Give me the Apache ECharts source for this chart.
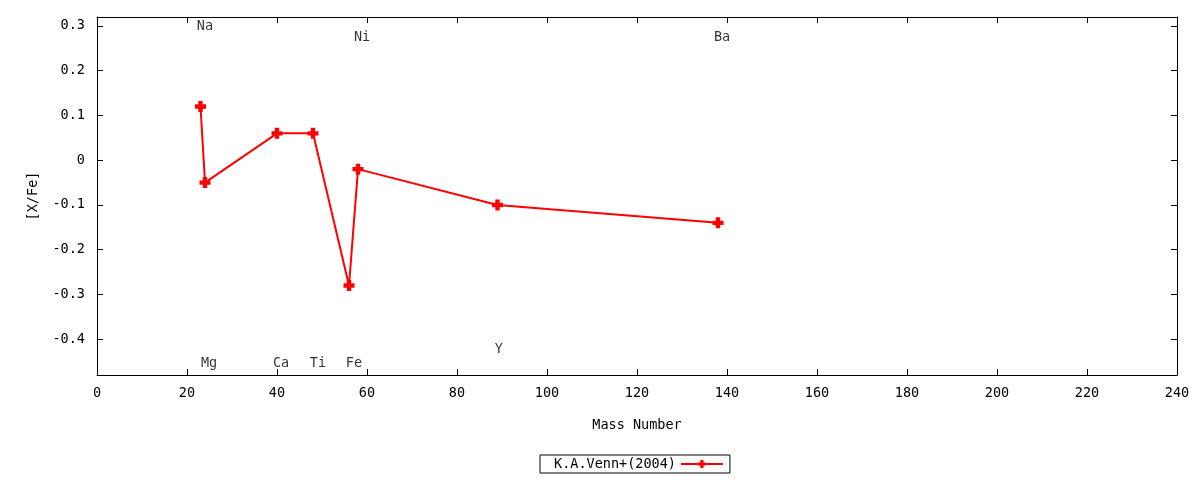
<!DOCTYPE html>
<html lang="en">
<head>
    <meta charset="UTF-8" />
    <title>[X/Fe] vs Mass Number</title>
    <script src="https://cdn.jsdelivr.net/npm/echarts@6/dist/echarts.min.js"></script>
</head>
<style>
    body { margin: 0; background: #fff; }
    #main { width: 1200px; height: 480px; }
</style>
<body>
    <div id="main"></div>
</body>
<script type="text/javascript">

    // abundances, K.A.Venn+(2004)
    var massNumber = [23, 24, 40, 48, 56, 58, 89, 138];
    var xFe = [0.12, -0.05, 0.06, 0.06, -0.28, -0.02, -0.10, -0.14];

    // element labels
    var elemNames = ['Na', 'Mg', 'Ca', 'Ti', 'Fe', 'Ni', 'Y', 'Ba'];
    var elemX = [24, 24.9, 40.9, 49.1, 57.1, 58.9, 89.3, 138.9];
    var elemY = [0.298, -0.454, -0.454, -0.454, -0.454, 0.275, -0.423, 0.275];

    var yTicks = [-0.4, -0.3, -0.2, -0.1, 0, 0.1, 0.2, 0.3];

    var font = 'DejaVu Sans Mono';
    var fs = 13.5;
    var plus = 'path://M3,0h4v3h3v4h-3v3h-4v-3h-3v-4h3z';

    function axisLine() {
        return { show: true, onZero: false, lineStyle: { color: '#000', width: 1 } };
    }
    function ticks(custom) {
        var t = { show: true, inside: true, length: 6, lineStyle: { color: '#000' } };
        if (custom) t.customValues = custom;
        return t;
    }

    function yLabel(v) {
        if (Math.abs(v) < 1e-9) return '0';
        return v.toFixed(1);
    }

    var chart = echarts.init(document.getElementById('main'));
    chart.setOption({
        animation: false,
        textStyle: { fontFamily: font },
        grid: { left: 97, right: 23, top: 17, bottom: 105 },
        legend: {
            left: 540,
            top: 455,
            align: 'right',
            borderColor: '#000',
            borderWidth: 1,
            borderRadius: 0,
            padding: [2, 6, 2, 14],
            itemWidth: 42,
            itemHeight: 10,
            textStyle: { fontFamily: font, fontSize: fs, color: '#000' },
            data: ['K.A.Venn+(2004)']
        },
        xAxis: [
            {
                type: 'value', min: 0, max: 240, interval: 20,
                name: 'Mass Number', nameLocation: 'middle', nameGap: 43,
                nameTextStyle: { fontFamily: font, fontSize: fs, color: '#000' },
                axisLine: axisLine(), axisTick: ticks(), splitLine: { show: false },
                axisLabel: { color: '#000', fontFamily: font, fontSize: fs, margin: 11 }
            },
            {
                type: 'value', min: 0, max: 240, interval: 20, position: 'top',
                axisLine: axisLine(), axisTick: ticks(), splitLine: { show: false },
                axisLabel: { show: false }
            }
        ],
        yAxis: [
            {
                type: 'value', min: -0.48, max: 0.32,
                name: '[X/Fe]', nameLocation: 'middle', nameGap: 57, nameRotate: 90,
                nameTextStyle: { fontFamily: font, fontSize: fs, color: '#000' },
                axisLine: axisLine(), axisTick: ticks(yTicks), splitLine: { show: false },
                axisLabel: {
                    color: '#000', fontFamily: font, fontSize: fs, margin: 12,
                    customValues: yTicks, formatter: yLabel
                }
            },
            {
                type: 'value', min: -0.48, max: 0.32, position: 'right',
                axisLine: axisLine(), axisTick: ticks(yTicks), splitLine: { show: false },
                axisLabel: { show: false }
            }
        ],
        series: [
            {
                name: 'K.A.Venn+(2004)',
                type: 'line',
                data: massNumber.map(function (m, i) { return [m, xFe[i]]; }),
                symbol: plus,
                symbolSize: 11,
                showAllSymbol: true,
                color: '#ff0000',
                lineStyle: { color: '#ff0000', width: 2 },
                itemStyle: { color: '#ff0000' }
            },
            {
                name: 'labels',
                type: 'scatter',
                symbolSize: 0,
                silent: true,
                data: elemNames.map(function (n, i) { return { name: n, value: [elemX[i], elemY[i]] }; }),
                label: {
                    show: true,
                    position: 'inside',
                    formatter: '{b}',
                    color: '#000',
                    fontFamily: font,
                    fontSize: fs
                }
            }
        ]
    });
</script>
</html>
